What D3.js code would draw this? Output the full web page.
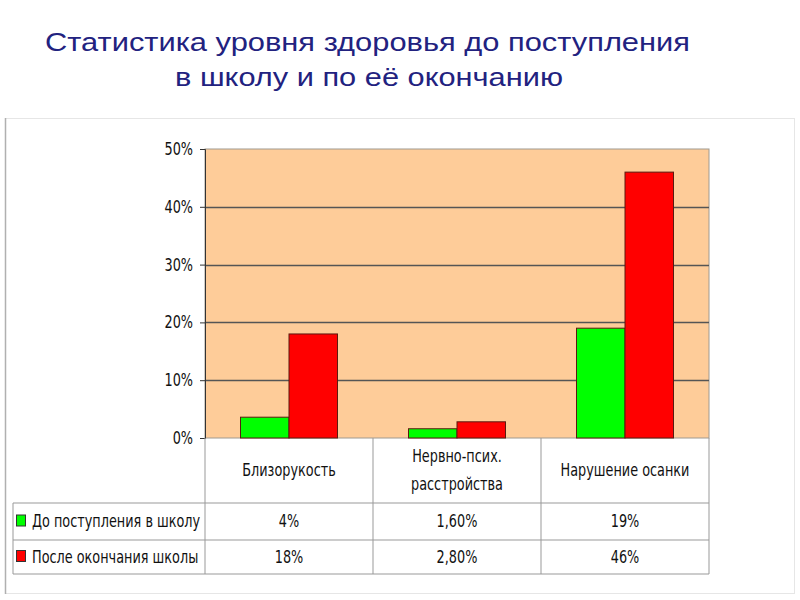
<!DOCTYPE html>
<html lang="ru">
<head>
<meta charset="UTF-8">
<title>Статистика уровня здоровья</title>
<script src="https://d3js.org/d3.v7.min.js"></script>
<style>
  body { margin: 0; background: #fff; }
  .title { font-family: "Liberation Sans", Arial, sans-serif; font-size: 25px; fill: #22227f; }
  .lbl { font-family: "DejaVu Sans Condensed", "DejaVu Sans", sans-serif; font-size: 17px; fill: #111; }
</style>
</head>
<body>
<svg width="800" height="600"></svg>
<script>
// данные
const categories = ["Близорукость", "Нервно-псих.\nрасстройства", "Нарушение осанки"];
const seriesNames = ["До поступления в школу", "После окончания школы"];
const before = [3.6, 1.6, 19];
const after = [18, 2.8, 46];
const beforeLabels = ["4%", "1,60%", "19%"];
const afterLabels = ["18%", "2,80%", "46%"];
const yTicks = [0, 10, 20, 30, 40, 50];
const colors = ["#00ff00", "#ff0000"];

const svg = d3.select("svg");
const squeeze = 0.84; // текст в диаграмме узкий

function label(x, y, txt, anchor) {
  return svg.append("text").attr("class", "lbl")
    .attr("transform", `translate(${x},${y}) scale(${squeeze},1)`)
    .attr("text-anchor", anchor || "middle").attr("dy", "0.35em").text(txt);
}

// заголовок
svg.append("text").attr("class", "title").attr("x", 45).attr("y", 51)
  .attr("textLength", 645).attr("lengthAdjust", "spacingAndGlyphs")
  .text("Статистика уровня здоровья до поступления");
svg.append("text").attr("class", "title").attr("x", 175).attr("y", 86)
  .attr("textLength", 388).attr("lengthAdjust", "spacingAndGlyphs")
  .text("в школу и по её окончанию");

// рамка диаграммы
svg.append("rect").attr("x", 5.5).attr("y", 118.5).attr("width", 789).attr("height", 475)
  .attr("fill", "none").attr("stroke", "#e6e6e6");
svg.append("line").attr("x1", 5.5).attr("x2", 5.5).attr("y1", 118).attr("y2", 594)
  .attr("stroke", "#b0b0b0").attr("stroke-width", 1.5);

const pLeft = 205, pRight = 709, pTop = 149, pBottom = 438;

const x = d3.scaleBand().domain(d3.range(categories.length)).range([pLeft, pRight]);
const xs = d3.scaleBand().domain([0, 1]).range([0, 97]);
const y = d3.scaleLinear().domain([0, 50]).range([pBottom, pTop]);

// фон области построения
svg.append("rect").attr("x", pLeft).attr("y", pTop).attr("width", pRight - pLeft).attr("height", pBottom - pTop)
  .attr("fill", "#fecc99").attr("stroke", "#a09a90");

// сетка
svg.append("g").selectAll("line").data(yTicks.slice(1, -1)).join("line")
  .attr("x1", pLeft).attr("x2", pRight)
  .attr("y1", d => Math.round(y(d)) + 0.5).attr("y2", d => Math.round(y(d)) + 0.5)
  .attr("stroke", "#555").attr("stroke-width", 1.3);

// ось Y
const yAxis = svg.append("g").attr("transform", `translate(${pLeft},0)`)
  .call(d3.axisLeft(y).tickValues(yTicks).tickFormat(d => d + "%").tickSize(5).tickPadding(6));
yAxis.select(".domain").attr("stroke", "#333");
yAxis.selectAll(".tick line").attr("stroke", "#333");
yAxis.selectAll(".tick text").attr("class", "lbl").attr("fill", "#111").style("font-size", "17px")
  .attr("x", null).attr("dy", "0.32em")
  .attr("transform", `translate(-12,0) scale(${squeeze},1)`);

// столбцы
const series = [before, after];
series.forEach((vals, s) => {
  svg.append("g").selectAll("rect").data(vals).join("rect")
    .attr("x", (d, i) => x(i) + (x.bandwidth() - 97) / 2 + xs(s))
    .attr("y", d => y(d))
    .attr("width", xs.bandwidth())
    .attr("height", d => y(0) - y(d))
    .attr("fill", colors[s])
    .attr("stroke", "#5a1a10").attr("stroke-width", 1);
});

// таблица данных
const rowY = [pBottom, 503, 540, 574];
const tableLeft = 13;
const grid = svg.append("g").attr("stroke", "#999").attr("stroke-width", 1);
[0, 1, 2, 3].forEach(i => {
  const xx = i < 3 ? x(i) : pRight;
  grid.append("line").attr("x1", xx).attr("x2", xx).attr("y1", pBottom).attr("y2", rowY[3]);
});
grid.append("line").attr("x1", tableLeft).attr("x2", tableLeft).attr("y1", rowY[1]).attr("y2", rowY[3]);
[1, 2, 3].forEach(r => {
  grid.append("line").attr("x1", tableLeft).attr("x2", pRight).attr("y1", rowY[r]).attr("y2", rowY[r]);
});

// подписи категорий
categories.forEach((c, i) => {
  const lines = c.split("\n");
  const cx = x(i) + x.bandwidth() / 2;
  const cy = (rowY[0] + rowY[1]) / 2;
  lines.forEach((ln, k) => {
    label(cx, cy + (k - (lines.length - 1) / 2) * 28, ln);
  });
});

// строки легенды и значения
const labelRows = [beforeLabels, afterLabels];
labelRows.forEach((labs, s) => {
  const cy = (rowY[s + 1] + rowY[s + 2]) / 2;
  svg.append("rect").attr("x", 16.5).attr("y", cy - 6.5).attr("width", 9).attr("height", 11)
    .attr("fill", colors[s]).attr("stroke", "#333");
  label(32, cy, seriesNames[s], "start");
  labs.forEach((l, i) => label(x(i) + x.bandwidth() / 2, cy, l));
});
</script>
</body>
</html>
